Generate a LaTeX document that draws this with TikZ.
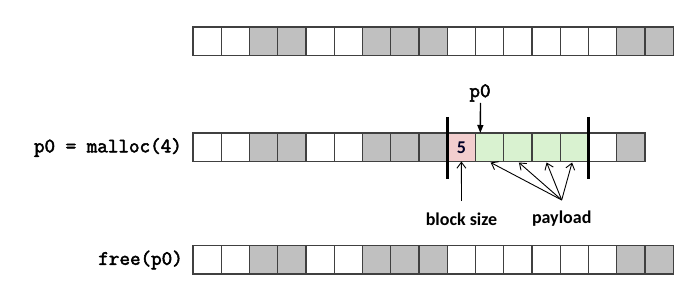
\documentclass[tikz,border=0pt]{standalone}
\usepackage{fontspec}
\setmainfont{Carlito}
\newfontfamily\codefont[FakeBold=2.5]{Latin Modern Mono}
\usetikzlibrary{arrows.meta}
\definecolor{cellgray}{HTML}{C0C0C0}
\definecolor{cellpink}{HTML}{F2CECE}
\definecolor{cellgreen}{HTML}{D9F2D0}
\definecolor{celledge}{HTML}{404040}
\begin{document}
\begin{tikzpicture}[x=1pt,y=-1pt,
  cell/.style={draw=celledge, line width=1.1pt, minimum width=28.25pt, minimum height=28.5pt, inner sep=0pt, outer sep=0pt, anchor=north west},
  codelabel/.style={font=\codefont\fontsize{20.5}{22}\selectfont, inner sep=0pt, anchor=east},
  textlabel/.style={font=\bfseries\fontsize{18}{20}\selectfont, inner sep=0pt},
  bar/.style={line width=2.6pt, black},
  ptr/.style={line width=1.4pt, -{Triangle[length=8pt,width=6pt]}},
  lbl/.style={line width=0.9pt, -{Straight Barb[length=6pt,width=9pt]}}
]
\useasboundingbox (0,0) rectangle (699,307);
% row 1
\foreach \c [count=\i] in {white,white,cellgray,cellgray,white,white,cellgray,cellgray,cellgray,white,white,white,white,white,white,cellgray,cellgray}
  \node[cell, fill=\c] (ra\i) at ({193+28.25*(\i-1)},27) {};
% row 2
\foreach \c [count=\i] in {white,white,cellgray,cellgray,white,white,cellgray,cellgray,cellgray,cellpink,cellgreen,cellgreen,cellgreen,cellgreen,white,cellgray}
  \node[cell, fill=\c] (rb\i) at ({193+28.25*(\i-1)},133) {};
% row 3
\foreach \c [count=\i] in {white,white,cellgray,cellgray,white,white,cellgray,cellgray,cellgray,white,white,white,white,white,white,cellgray,cellgray}
  \node[cell, fill=\c] (rc\i) at ({193+28.25*(\i-1)},245.5) {};
% labels
\node[codelabel] (malloc) at (182,147.5) {p0 = malloc(4)};
\node[codelabel] (free) at (183,260) {free(p0)};
\node[textlabel, text=black!85!blue] (five) at (rb10.center) {5};
\node[codelabel, anchor=center] (ptop) at (480,93) {p0};
\node[textlabel] (bsize) at (461.5,219) {block size};
\node[textlabel] (payload) at (561.7,219) {payload};
% bars
\draw[bar] ([yshift=16pt]rb10.north west) -- ([yshift=-18pt]rb10.south west);
\draw[bar] ([yshift=16pt]rb14.north east) -- ([yshift=-18pt]rb14.south east);
% arrows
\coordinate (ptopb) at (480.5,103);
\draw[ptr] (ptopb) -- ([xshift=4.8pt]rb11.north west);
\coordinate (bsT) at (461.5,201);
\draw[lbl] (bsT) -- (rb10.south);
\coordinate (plT) at (561.7,200);
\draw[lbl] (plT) -- ([xshift=1pt,yshift=-1pt]rb11.south);
\draw[lbl] (plT) -- ([xshift=1pt,yshift=-1pt]rb12.south);
\draw[lbl] (plT) -- ([xshift=0.5pt,yshift=-1pt]rb13.south);
\draw[lbl] (plT) -- ([xshift=-2.3pt,yshift=-1pt]rb14.south);
\end{tikzpicture}
\end{document}
